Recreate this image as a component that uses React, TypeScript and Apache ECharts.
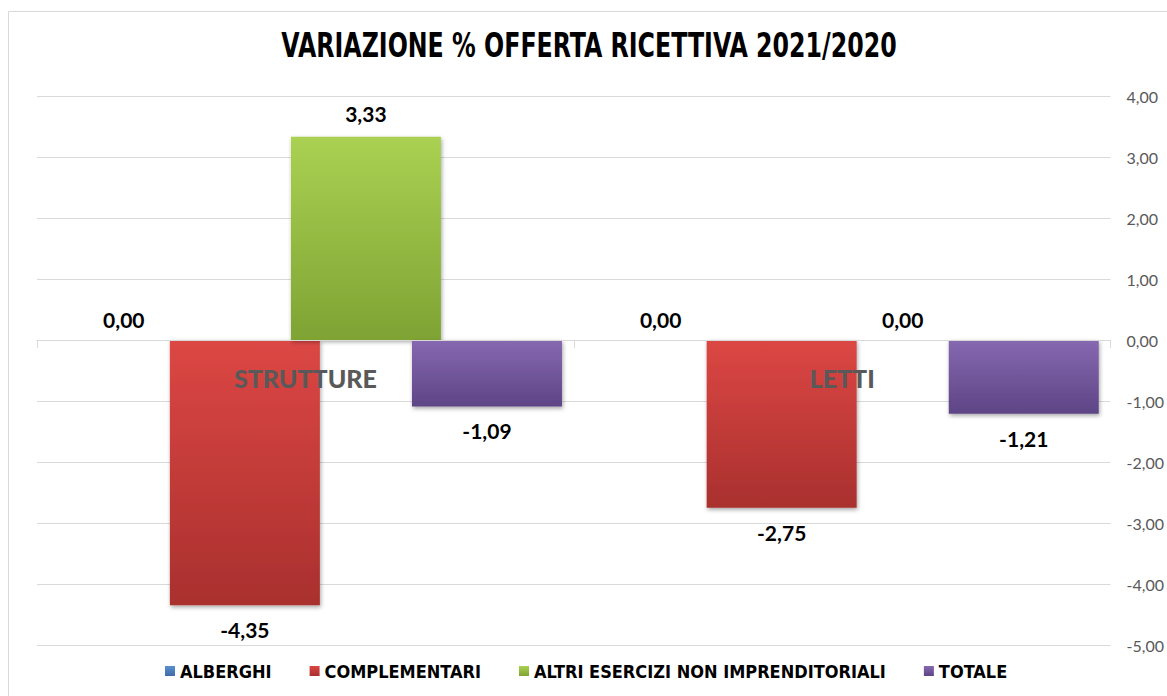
import React, { useEffect, useRef } from "react";
import * as echarts from "echarts";

const titleText = "VARIAZIONE % OFFERTA RICETTIVA 2021/2020";
const categories = ["STRUTTURE", "LETTI"];
const seriesNames = ["ALBERGHI", "COMPLEMENTARI", "ALTRI ESERCIZI NON IMPRENDITORIALI", "TOTALE"];
const alberghi = [0.0, 0.0];
const complementari = [-4.35, -2.75];
const altri = [3.33, 0.0];
const totale = [-1.09, -1.21];
const yTicks = { min: -5, max: 4, interval: 1 };

const palette = [
  ["#5A8FD0", "#3E6DA8"],
  ["#DC4744", "#A9302E"],
  ["#AAD152", "#7FA333"],
  ["#8668B0", "#5E4586"],
];

const fmt = (v: number) => v.toFixed(2).replace(".", ",");
const narrow = "'Liberation Sans Narrow', 'DejaVu Sans Condensed', sans-serif";
const calib = "Lato, 'Open Sans', sans-serif";

export default function App() {
  const ref = useRef<HTMLDivElement>(null);
  useEffect(() => {
    if (!ref.current) return;
    const chart = echarts.init(ref.current, undefined, { renderer: "svg" });
    const all = [alberghi, complementari, altri, totale];
    const series = all.map((vals, i) => ({
      name: seriesNames[i],
      type: "bar",
      barWidth: 150,
      barGap: "-19.3%",
      itemStyle: {
        color: new echarts.graphic.LinearGradient(0, 0, 0, 1, [
          { offset: 0, color: palette[i][0] },
          { offset: 1, color: palette[i][1] },
        ]),
        shadowBlur: 4,
        shadowOffsetY: 2,
        shadowOffsetX: 1,
        shadowColor: "rgba(0,0,0,0.35)",
      },
      data: vals.map((v) => ({
        value: v,
        label: {
          show: true,
          position: v < 0 ? "bottom" : "top",
          distance: v < 0 ? 14 : v > 0 ? 13 : 10,
          formatter: () => fmt(v),
          fontFamily: calib,
          fontWeight: "bold",
          fontSize: 21,
          color: "#000",
        },
      })),
    }));
    chart.setOption({
      animation: false,
      backgroundColor: "#fff",
      graphic: [
        {
          id: "frame",
          type: "rect",
          shape: { x: 8.5, y: 11.5, width: 1300, height: 800 },
          style: { fill: "none", stroke: "#D9D9D9", lineWidth: 1 },
          silent: true,
        },
        {
          id: "title",
          type: "text",
          x: 589,
          y: 45,
          scaleX: 0.775,
          style: {
            text: titleText,
            x: 0,
            y: 0,
            align: "center",
            verticalAlign: "middle",
            fontFamily: narrow,
            fontWeight: "bold",
            fontSize: 34,
            fill: "#000",
          },
        },
      ],
      legend: {
        bottom: 11,
        left: 160,
        itemWidth: 10,
        itemHeight: 10,
        itemGap: 38,
        icon: "rect",
        textStyle: {
          fontFamily: narrow,
          fontWeight: "bold",
          fontSize: 18,
          color: "#000",
        },
        data: seriesNames,
      },
      grid: { left: 37, right: 45, top: 96, bottom: 51 },
      xAxis: {
        type: "category",
        data: categories,
        z: 10,
        axisLine: { onZero: true, lineStyle: { color: "#D9D9D9" } },
        axisTick: { show: true, length: 8, inside: false, lineStyle: { color: "#D9D9D9" } },
        axisLabel: { show: false },
      },
      yAxis: {
        type: "value",
        position: "right",
        min: yTicks.min,
        max: yTicks.max,
        interval: yTicks.interval,
        axisLine: { show: false },
        axisTick: { show: false },
        splitLine: { lineStyle: { color: "#D9D9D9" } },
        axisLabel: {
          margin: 16,
          formatter: (v: number) => fmt(v),
          fontFamily: calib,
          fontSize: 16,
          color: "#595959",
        },
      },
      series,
    });
    const catLabels = categories.map((c, i) => {
      const p = chart.convertToPixel({ gridIndex: 0 }, [i, 0]) as number[];
      return {
        id: "cat" + i,
        type: "text",
        z: 100,
        x: p[0],
        y: p[1] + 38,
        style: {
          text: c,
          x: 0,
          y: 0,
          align: "center",
          verticalAlign: "middle",
          fontFamily: calib,
          fontWeight: 900,
          fontSize: 25,
          fill: "#595959",
        },
      };
    });
    chart.setOption({ graphic: catLabels });
    return () => chart.dispose();
  }, []);
  return (
    <div
      ref={ref}
      style={{ position: "fixed", left: 0, top: 0, width: 1167, height: 696 }}
    />
  );
}
